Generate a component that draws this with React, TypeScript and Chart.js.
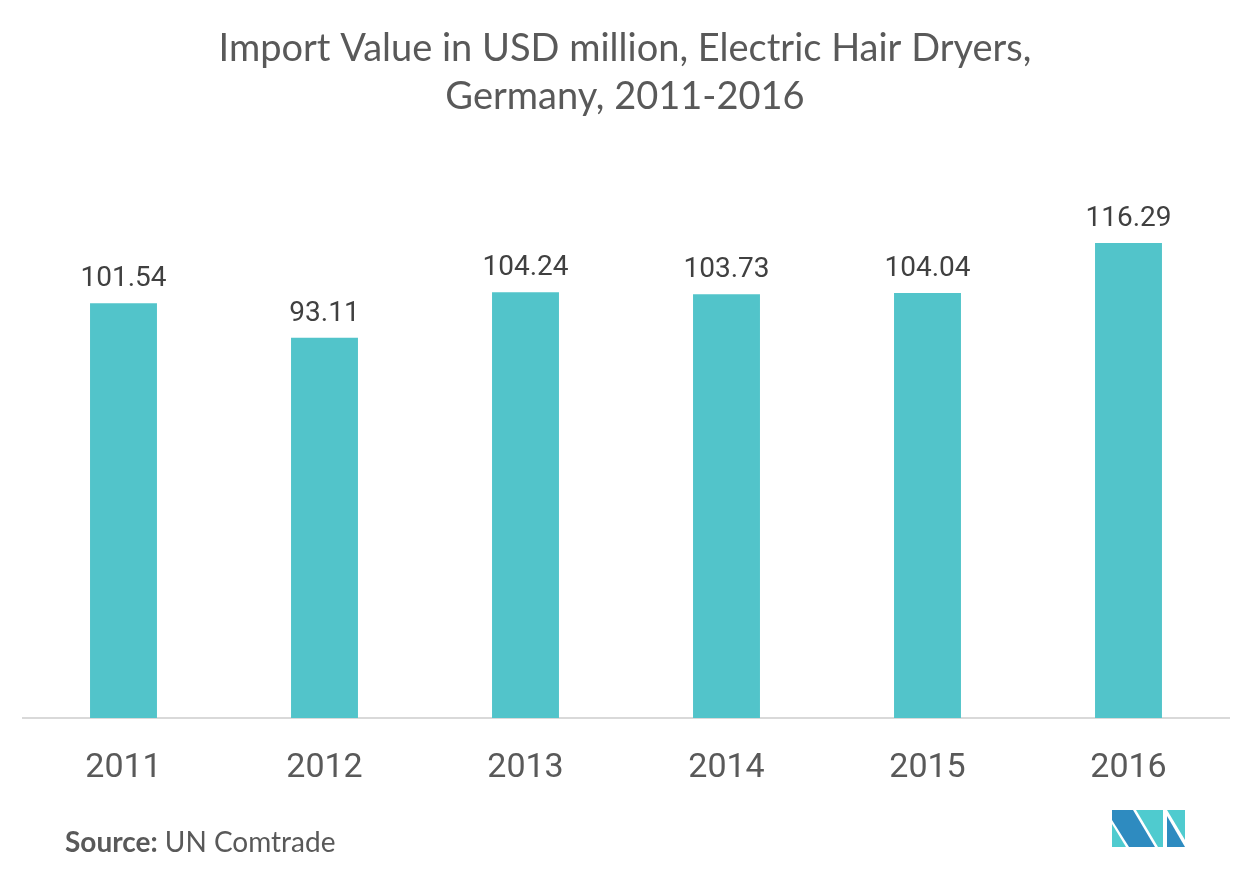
import React, { useEffect, useRef } from "react";
import { Chart, registerables } from "chart.js";

Chart.register(...registerables);

const categories: string[] = ["2011", "2012", "2013", "2014", "2015", "2016"];
const values: number[] = [101.54, 93.11, 104.24, 103.73, 104.04, 116.29];
const titleLines: string[] = ["Import Value in USD million, Electric Hair Dryers,", "Germany, 2011-2016"];
const sourceLabel = "Source:";
const sourceText = " UN Comtrade";

const W = 1252;
const H = 880;

const overlayPlugin = {
  id: "overlay",
  afterDatasetsDraw(chart: any) {
    const ctx = chart.ctx as CanvasRenderingContext2D;
    const meta = chart.getDatasetMeta(0);
    ctx.save();
    ctx.fillStyle = "#404040";
    ctx.font = "400 28px Roboto";
    ctx.textAlign = "center";
    ctx.textBaseline = "alphabetic";
    meta.data.forEach((bar: any, i: number) => {
      ctx.fillText(values[i].toFixed(2), bar.x, bar.y - 17);
    });
    ctx.restore();
  },
  afterDraw(chart: any) {
    const ctx = chart.ctx as CanvasRenderingContext2D;
    ctx.save();
    // title
    ctx.fillStyle = "#595959";
    ctx.font = "400 38px Lato";
    ctx.textAlign = "center";
    ctx.textBaseline = "alphabetic";
    ctx.fillText(titleLines[0], 625, 61);
    ctx.fillText(titleLines[1], 625, 109);
    // source
    ctx.textAlign = "left";
    ctx.font = "700 28px Lato";
    ctx.fillStyle = "#595959";
    ctx.fillText(sourceLabel, 65, 852);
    const w = ctx.measureText(sourceLabel).width;
    ctx.font = "400 28px Lato";
    ctx.fillText(sourceText, 65 + w, 852);
    // logo
    const dark = "#2E8BC0";
    const teal = "#4FCBCF";
    const poly = (pts: number[][], c: string) => {
      ctx.beginPath();
      ctx.moveTo(pts[0][0], pts[0][1]);
      for (let k = 1; k < pts.length; k++) ctx.lineTo(pts[k][0], pts[k][1]);
      ctx.closePath();
      ctx.fillStyle = c;
      ctx.fill();
    };
    poly([[1112, 824], [1112, 847], [1126, 847]], teal);
    poly([[1112, 810], [1133, 810], [1155, 847], [1129, 847], [1112, 820]], dark);
    poly([[1136, 810], [1163, 810], [1163, 847], [1158, 847]], teal);
    poly([[1167, 810], [1185, 810], [1185, 840]], teal);
    poly([[1167, 816], [1185, 847], [1167, 847]], dark);
    ctx.restore();
  },
};

export default function App() {
  const ref = useRef<HTMLCanvasElement | null>(null);
  useEffect(() => {
    if (!ref.current) return;
    const chart = new Chart(ref.current, {
      type: "bar",
      data: {
        labels: categories,
        datasets: [
          {
            data: values,
            backgroundColor: "#52C4CA",
            categoryPercentage: 1,
            barPercentage: 0.333,
          },
        ],
      },
      options: {
        responsive: false,
        animation: false,
        layout: { padding: { left: 23, right: 23, top: 187, bottom: 0 } },
        plugins: { legend: { display: false }, tooltip: { enabled: false }, title: { display: false } },
        scales: {
          x: {
            grid: { display: false },
            border: { display: true, color: "#D9D9D9", width: 2 },
            ticks: { color: "#595959", font: { family: "Roboto", size: 34 }, padding: 22 },
            afterFit(scale: any) {
              scale.height = 162;
            },
          },
          y: { display: false, min: 0, max: 130 },
        },
      },
      plugins: [overlayPlugin],
    });
    return () => chart.destroy();
  }, []);
  return (
    <div style={{ position: "fixed", left: 0, top: 0, width: W, height: H, background: "#fff" }}>
      <canvas ref={ref} width={W} height={H} style={{ width: W, height: H, display: "block" }} />
    </div>
  );
}
